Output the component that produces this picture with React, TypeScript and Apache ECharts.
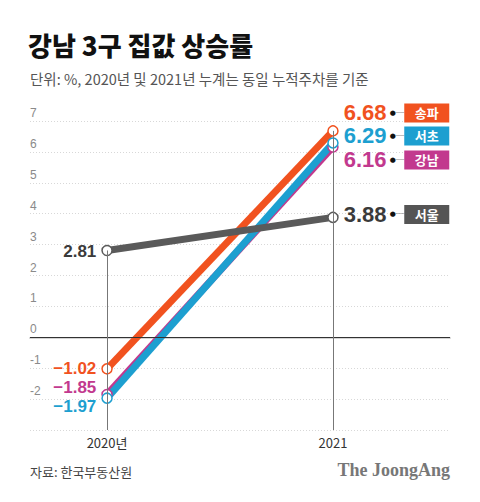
import React, { useEffect, useRef } from "react";
import * as echarts from "echarts";

const years = [2020, 2021];
const yearLabels = ["2020년", "2021"];
const seriesNames = ["강남", "서초", "송파", "서울"];
const gangnam = [-1.85, 6.16];
const seocho = [-1.97, 6.29];
const songpa = [-1.02, 6.68];
const seoul = [2.81, 3.88];
const yMin = -3;
const yMax = 7;

const title = "강남 3구 집값 상승률";
const subtitle = "단위: %, 2020년 및 2021년 누계는 동일 누적주차를 기준";
const source = "자료: 한국부동산원";
const brand = "The JoongAng";

const valuesByName: Record<string, number[]> = {
  강남: gangnam,
  서초: seocho,
  송파: songpa,
  서울: seoul,
};

const styleByName: Record<string, any> = {
  강남: { color: "#c2398e", text: "#c2398e", badge: "#c2398e", lo: -7, ro: 13 },
  서초: { color: "#1d9fd0", text: "#1d9fd0", badge: "#1d9fd0", lo: 8, ro: -7 },
  송파: { color: "#f1521f", text: "#f1521f", badge: "#f1521f", lo: 0, ro: -18 },
  서울: { color: "#5a5a5a", text: "#3a3a3a", badge: "#555555", lo: 1, ro: -3 },
};

const NUM_FONT = "'Liberation Sans', Arial, sans-serif";
const KR_FONT = "'Noto Sans CJK KR', sans-serif";

function fmt(v: number) {
  const s = Math.abs(v).toFixed(2);
  return v < 0 ? "\u2212" + s : s;
}

export default function App() {
  const ref = useRef<HTMLDivElement>(null);
  useEffect(() => {
    document.body.style.margin = "0";
    const chart = echarts.init(ref.current!, null, { renderer: "svg" });

    const first = years[0];
    const last = years[years.length - 1];
    const maxAt = (i: number) => Math.max(...seriesNames.map((n) => valuesByName[n][i]));

    const lineSeries = seriesNames.map((name) => {
      const st = styleByName[name];
      const vals = valuesByName[name];
      return {
        type: "line",
        name,
        z: 3,
        symbol: "circle",
        symbolSize: 10,
        itemStyle: { color: "#fff", borderColor: st.color, borderWidth: 1.5 },
        lineStyle: { color: st.color, width: 7 },
        emphasis: { disabled: true },
        data: vals.map((v, i) => ({
          value: [years[i], v],
          label:
            i === 0
              ? {
                  show: true,
                  position: "left",
                  distance: 5,
                  offset: [0, st.lo],
                  formatter: fmt(v),
                  color: st.text,
                  fontSize: 17,
                  lineHeight: 14,
                  fontWeight: "bold",
                  fontFamily: NUM_FONT,
                }
              : {
                  show: true,
                  position: "right",
                  distance: 5,
                  offset: [0, st.ro],
                  formatter: `{v|${fmt(v)}}{d|●}{ln|──}{b|${name}}`,
                  rich: {
                    v: { fontSize: 22, fontWeight: "bold", color: st.text, width: 46, fontFamily: NUM_FONT },
                    d: { fontSize: 7, color: "#111", fontFamily: "'DejaVu Sans', sans-serif" },
                    ln: { fontSize: 7, color: "#999", fontFamily: "'DejaVu Sans', sans-serif" },
                    b: {
                      backgroundColor: st.badge,
                      color: "#fff",
                      fontSize: 13,
                      fontWeight: "bold",
                      fontFamily: KR_FONT,
                      width: 45,
                      align: "center",
                      lineHeight: 14,
                      padding: [3, 0, 3, 0],
                    },
                  },
                },
        })),
      };
    });

    const option: any = {
      animation: false,
      grid: { left: 30, right: 30, top: 121, bottom: 72, containLabel: false, outerBoundsMode: "none" },
      xAxis: {
        type: "value",
        min: 2019.659,
        max: 2021.518,
        axisLine: { show: true, lineStyle: { color: "#d4d4d4", width: 2 } },
        axisTick: { show: false },
        splitLine: { show: false },
        axisLabel: {
          customValues: years,
          formatter: (v: number) => {
            const i = years.indexOf(Math.round(v));
            return i >= 0 ? yearLabels[i] : "";
          },
          color: "#333",
          fontSize: 13,
          margin: 6,
          fontFamily: KR_FONT,
        },
      },
      yAxis: {
        type: "value",
        min: yMin,
        max: yMax,
        interval: 1,
        axisLine: { show: false },
        axisTick: { show: false },
        splitLine: { show: true, lineStyle: { color: "#d8d8d8", type: [1, 2], width: 1 } },
        axisLabel: {
          inside: true,
          align: "left",
          verticalAlign: "bottom",
          margin: 0,
          padding: [0, 0, 2, 0],
          color: "#8a8a8a",
          fontSize: 12,
          fontFamily: NUM_FONT,
          formatter: (v: number) => (v === yMin ? "" : String(v)),
        },
      },
      series: [
        {
          type: "line",
          z: 1,
          data: [],
          markLine: {
            silent: true,
            symbol: "none",
            label: { show: false },
            data: [
              { yAxis: 0, lineStyle: { color: "#333", width: 1, type: "solid" } },
              [
                { coord: [first, maxAt(0)], lineStyle: { color: "#777", width: 1, type: "solid" } },
                { coord: [first, yMin] },
              ],
              [
                { coord: [last, maxAt(years.length - 1)], lineStyle: { color: "#777", width: 1, type: "solid" } },
                { coord: [last, yMin] },
              ],
            ],
          },
        },
        ...lineSeries,
      ],
      graphic: [
        {
          type: "text",
          left: 28,
          top: 31,
          style: { text: title, fontSize: 26, fontWeight: 900, fill: "#111", fontFamily: KR_FONT },
        },
        {
          type: "text",
          left: 30,
          top: 71,
          style: { text: subtitle, fontSize: 14.5, fill: "#555", fontFamily: KR_FONT },
        },
        {
          type: "text",
          left: 30,
          top: 465,
          style: { text: source, fontSize: 13, fill: "#444", fontFamily: KR_FONT },
        },
        {
          type: "text",
          right: 30,
          top: 461,
          style: {
            text: brand,
            fontSize: 18,
            fontWeight: "bold",
            fill: "#777",
            fontFamily: "'Liberation Serif', 'DejaVu Serif', serif",
          },
        },
      ],
    };
    chart.setOption(option);
    return () => chart.dispose();
  }, []);
  return <div ref={ref} style={{ width: 480, height: 502 }} />;
}
